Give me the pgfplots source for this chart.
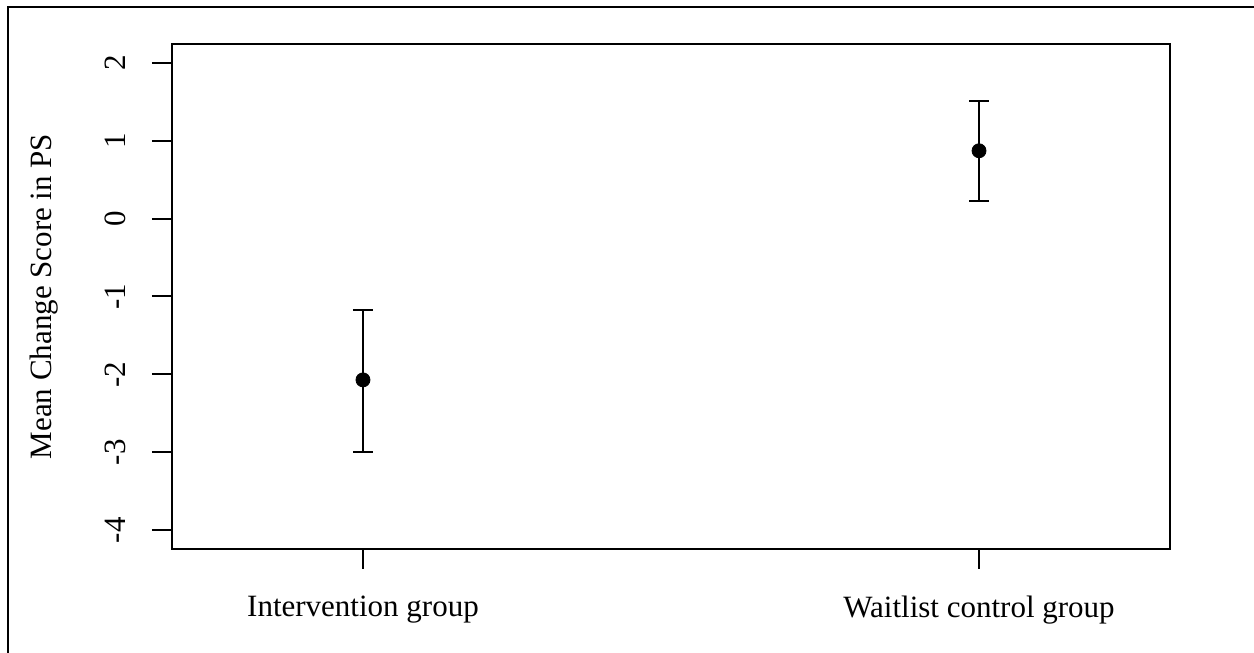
\documentclass[border=0pt]{standalone}
\usepackage{pgfplots}
\pgfplotsset{compat=1.18}
\usepackage{fontspec}
\setmainfont{Liberation Serif}

\begin{document}
\begin{tikzpicture}[x=0.5pt,y=0.5pt]
  % page area and outer frame
  \path[use as bounding box] (0,0) rectangle (1254,653);
  \draw[line width=1.3pt] (8,0) -- (8,646) -- (1254,646);
  \begin{axis}[
    at={(172pt*0.5,104pt*0.5)}, anchor=south west,
    scale only axis, width=499pt, height=252.5pt,
    xmin=0.69, xmax=2.31, ymin=-4.24, ymax=2.24,
    axis line style={line width=1pt},
    tick style={line width=1pt, black},
    tick align=outside, major tick length=10pt,
    xtick={1,2}, xticklabels={Intervention group, Waitlist control group},
    ytick={-4,-3,-2,-1,0,1,2}, yticklabels={-4,-3,-2,-1,0,1,2},
    xtick pos=bottom, ytick pos=left,
    ticklabel style={font=\fontsize{15.5}{18}\selectfont},
    xticklabel style={yshift=-10pt},
    yticklabel style={rotate=90, anchor=south, yshift=9.5pt},
    ylabel={Mean Change Score in PS},
    ylabel style={font=\fontsize{15.5}{18}\selectfont, yshift=16.5pt},
    /pgf/number format/assume math mode=true,
  ]
    \addplot+[only marks, black, mark=*, mark size=3.5pt,
      mark options={fill=black},
      error bars/.cd, y dir=both, y explicit,
      error bar style={line width=1pt},
      error mark options={rotate=90, mark size=5pt, line width=1pt}]
      table[x=x, y=y, y error plus=ep, y error minus=em] {
        x y     ep    em
        1 -2.07 0.90  0.93
        2 0.87  0.64  0.64
      };
  \end{axis}
\end{tikzpicture}
\end{document}
